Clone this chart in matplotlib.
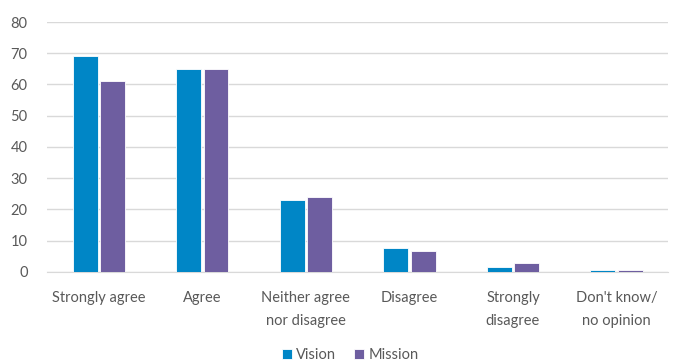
import numpy as np
import matplotlib.pyplot as plt

categories = ["Strongly agree", "Agree", "Neither agree\nnor disagree", "Disagree",
              "Strongly\ndisagree", "Don't know/\nno opinion"]
vision = [69, 65, 23, 7.5, 1.5, 0.6]
mission = [61, 65, 24, 6.6, 2.8, 0.6]

plt.rcParams['font.family'] = ['Lato', 'DejaVu Sans']

fig = plt.figure(figsize=(6.73, 3.61), dpi=100)
ax = fig.add_axes([0.07, 0.247, 0.923, 0.692])

x = np.arange(len(categories))
w = 0.24
ax.bar(x - w / 2 - 0.012, vision, w, color='#0086C6', edgecolor='white', linewidth=0.6,
       label='Vision', zorder=3)
ax.bar(x + w / 2 + 0.012, mission, w, color='#6E5EA0', edgecolor='white', linewidth=0.6,
       label='Mission', zorder=3)

ax.set_xlim(-0.5, len(categories) - 0.5)
ax.set_ylim(0, 80)
ax.set_yticks(range(0, 81, 10))
ax.grid(axis='y', color='#D9D9D9', linewidth=1, zorder=0)
for s in ['top', 'right', 'left']:
    ax.spines[s].set_visible(False)
ax.spines['bottom'].set_color('#D9D9D9')
ax.tick_params(axis='both', length=0, colors='#595959', labelsize=10.5)
ax.tick_params(axis='y', pad=14)
ax.tick_params(axis='x', pad=14)
ax.set_xticks(x)
ax.set_xticklabels(categories, linespacing=1.75)

fig.legend(loc='lower center', bbox_to_anchor=(0.52, -0.04), ncol=2, frameon=False,
           fontsize=10.5, handlelength=0.7, handleheight=0.7, handletextpad=0.3,
           columnspacing=1.2, labelcolor='#595959')

fig.savefig('out.png', dpi=100)
